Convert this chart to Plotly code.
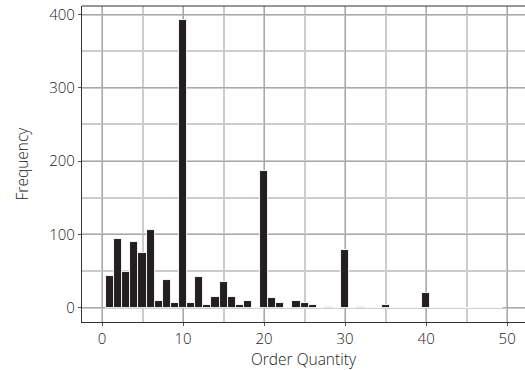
import plotly.graph_objects as go

quantity = list(range(1, 50))
counts = [43, 94, 48, 89, 74, 106, 9, 38, 7, 392,
          7, 42, 4, 14, 35, 15, 4, 9, 0, 186,
          13, 7, 0, 9, 7, 3, 0, 1, 0, 79,
          0, 1, 0, 0, 3, 0, 0, 0, 0, 20,
          0, 0, 0, 0, 0, 0, 0, 0, 0]

x_ticks = [0, 10, 20, 30, 40, 50]
y_ticks = [0, 100, 200, 300, 400]

font_family = "Open Sans"
text_color = "#222222"
fsize = 15.5
fweight = 300

fig = go.Figure()
fig.add_trace(go.Bar(
    x=quantity, y=counts, width=1.0,
    marker=dict(color="#231f20", line=dict(color="white", width=0.9)),
    showlegend=False,
))

fig.update_layout(
    width=525, height=370,
    margin=dict(l=82, r=0, t=6, b=48),
    plot_bgcolor="white", paper_bgcolor="white",
    font=dict(family=font_family, size=fsize, color=text_color, weight=fweight),
    bargap=0,
    shapes=[dict(type="line", xref="paper", yref="paper", x0=0, x1=1, y0=1, y1=1,
                 line=dict(color="#333", width=1.2))],
)
common = dict(
    ticks="outside", ticklen=3, tickcolor="#555", color=text_color,
    showgrid=True, gridcolor="#a8a8a8", gridwidth=1,
    showline=True, linecolor="#333", linewidth=1.2, mirror=False,
    zeroline=False,
    tickfont=dict(size=15, color=text_color, family=font_family, weight=fweight),
)
fig.update_xaxes(
    range=[-2.47, 52.2], tickvals=x_ticks,
    minor=dict(dtick=5, tick0=0, showgrid=True, gridcolor="#cccccc", gridwidth=1.5, ticks=""),
    title=dict(text="Order Quantity", standoff=8,
               font=dict(size=fsize, color=text_color, family=font_family, weight=fweight)),
    **common,
)
fig.update_yaxes(
    range=[-19.6, 411.6], tickvals=y_ticks,
    minor=dict(dtick=50, tick0=0, showgrid=True, gridcolor="#cccccc", gridwidth=1.5, ticks=""),
    title=dict(text="Frequency", standoff=16,
               font=dict(size=fsize, color=text_color, family=font_family, weight=fweight)),
    **common,
)

fig.write_html("out.html")
